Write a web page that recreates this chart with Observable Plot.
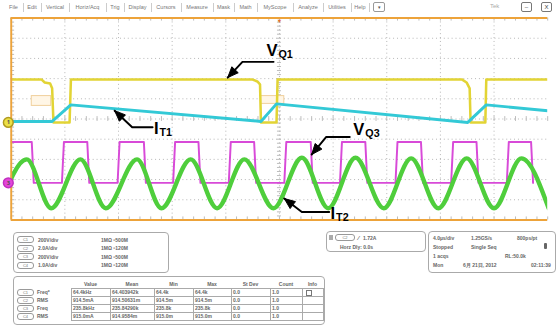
<!DOCTYPE html>
<html><head><meta charset="utf-8">
<script src="https://cdn.jsdelivr.net/npm/d3@7"></script>
<script src="https://cdn.jsdelivr.net/npm/@observablehq/plot@0.6"></script>
<style>
body{margin:0;background:#fff;font-family:"Liberation Sans",Arial,sans-serif;}
#wrap{position:relative;width:556px;height:326px;overflow:hidden;background:#fff;}
#plot{position:absolute;left:0;top:0;}
.abs{position:absolute;white-space:nowrap;}
.menu{font-size:5.5px;color:#777;text-align:center;top:3px;height:9px;line-height:9px;}
.sep{width:1px;height:9px;background:#ccc;top:3px;}
.box{border:1.5px solid #aaa;border-radius:4px;box-sizing:border-box;}
.t{font-size:5px;font-weight:bold;color:#666;line-height:6px;}
.pill{border:1px solid #999;border-radius:3px;box-sizing:border-box;font-size:4px;color:#777;text-align:center;line-height:5px;height:7px;}
.cell{border:1px solid #aaa;box-sizing:border-box;font-size:5px;font-weight:bold;color:#666;line-height:6px;padding-left:1px;}
</style></head><body><div id="wrap"><div id="plot"></div></div>
<script>
// ---------- data (time in µs, vertical in screen divisions) ----------
// CH1 V_Q1 (yellow)
const ch1T = [-20, -17.75, -17.5, -17.1, -16.95, -16.85, -15.65, -15.55, -2.05, -1.65, -1.45, -1.38, -0.22, -0.14, 13.6, 13.95, 14.18, 14.25, 15.35, 15.42, 20];
const ch1V = [1.96, 1.96, 1.81, 1.76, 1.52, -0.17, -0.17, 1.96, 1.96, 1.86, 1.72, -0.17, -0.17, 1.96, 1.96, 1.81, 1.52, -0.17, -0.17, 1.96, 1.96];
// CH2 I_T1 (cyan)
const ch2T = [-20, -16.95, -15.56, -1.38, -0.22, 14.04, 15.42, 20];
const ch2V = [-0.12, -0.12, 0.70, -0.12, 0.75, -0.17, 0.70, 0.41];
// CH3 V_Q3 (magenta) square wave edges
const ch3Rise = [-20.36, -16.22, -12.07, -7.93, -3.78, 0.36, 4.51, 8.65, 12.8, 16.95];
const ch3Fall = [-18.47, -14.33, -10.11, -6.04, -1.89, 2.33, 6.4, 10.55, 14.69, 18.76];
const ch3High = -1.135, ch3Low = -3.164;
// CH4 I_T2 (green) extrema
const ch4PeakT = [-18.84, -14.84, -10.62, -6.62, -2.62, 1.67, 5.67, 9.82, 13.96, 18.04];
const ch4PeakV = [-2.0, -2.0, -2.0, -2.0, -2.0, -1.92, -1.92, -1.95, -1.95, -1.95];
const ch4TroughT = [-20.87, -17.02, -12.95, -8.8, -4.65, -0.44, 3.64, 7.78, 11.85, 16.0, 20.07];
const ch4TroughV = [-4.42, -4.42, -4.42, -4.42, -4.42, -4.42, -4.42, -4.42, -4.42, -4.42, -4.42];
// ground markers
const groundNames = ["1", "3"];
const groundV = [-0.17, -3.16];
// faint on-screen label boxes
const ghostT1 = [-18.47, -1.38], ghostT2 = [-17.02, 0.36];
const ghostV1 = [1.135, 1.135], ghostV2 = [0.65, 0.75];
// annotation labels
const labelMain = ["V", "I", "V", "I"];
const labelSub = ["Q1", "T1", "Q3", "T2"];
const labelT = [-0.15, -9.02, 6.33, 4.15];
const labelV = [3.12, -0.75, -0.8, -4.95];
const arrowPath = [
  [[-0.44, 2.83], [-2.76, 2.83], [-3.86, 2.05]],
  [[-9.46, -0.41], [-10.98, -0.41], [-12.29, 0.41]],
  [[5.24, -0.89], [3.49, -0.89], [2.4, -1.76]],
  [[3.71, -4.61], [1.67, -4.61], [0.36, -3.94]]
];
// grid
const gridT = [-16, -12, -8, -4, 0, 4, 8, 12, 16];
const gridV = [-4, -3, -2, -1, 0, 1, 2, 3, 4];
// texts
const menuItems = ["File", "Edit", "Vertical", "Horiz/Acq", "Trig", "Display", "Cursors", "Measure", "Mask", "Math", "MyScope", "Analyze", "Utilities", "Help"];
const chanNames = ["C1", "C2", "C3", "C4"];
const chanScale = ["200V/div", "2.0A/div", "200V/div", "1.0A/div"];
const chanImp = ["1MΩ", "1MΩ", "1MΩ", "1MΩ"];
const chanBW = ["500M", "120M", "500M", "120M"];
const measHead = ["Value", "Mean", "Min", "Max", "St Dev", "Count", "Info"];
const measType = ["Freq*", "RMS", "Freq", "RMS"];
const measValue = ["64.4kHz", "914.5mA", "235.8kHz", "915.0mA"];
const measMean = ["64.403942k", "914.50631m", "235.84290k", "914.9584m"];
const measMin = ["64.4k", "914.5m", "235.8k", "915.0m"];
const measMax = ["64.4k", "914.5m", "235.8k", "915.0m"];
const measStd = ["0.0", "0.0", "0.0", "0.0"];
const measCount = ["1.0", "1.0", "1.0", "1.0"];
const acqLines = [["4.0µs/div", "1.25GS/s", "800ps/pt"], ["Stopped", "Single Seq", ""], ["1 acqs", "", "RL:50.0k"], ["Mon", "6月 21日, 2012", "02:11:39"]];
const trigLines = ["1.72A", "Horz Dly: 0.0s"];

// ---------- build tables ----------
const ch1 = ch1T.map((t, i) => ({t, v: ch1V[i]}));
const ch2 = ch2T.map((t, i) => ({t, v: ch2V[i]}));
const ch3 = [];
ch3Rise.forEach((r, i) => {
  ch3.push({t: r, v: ch3Low}, {t: r + 0.15, v: ch3High}, {t: ch3Fall[i], v: ch3High}, {t: ch3Fall[i] + 0.15, v: ch3Low});
});
const ch4 = [...ch4PeakT.map((t, i) => ({t, v: ch4PeakV[i]})), ...ch4TroughT.map((t, i) => ({t, v: ch4TroughV[i]}))].sort((a, b) => a.t - b.t);
const grounds = groundNames.map((n, i) => ({n, v: groundV[i]}));
const labels = labelMain.map((m, i) => ({m, s: labelSub[i], t: labelT[i], v: labelV[i]}));
const ghosts = ghostT1.map((t1, i) => ({t1, t2: ghostT2[i], v1: ghostV1[i], v2: ghostV2[i]}));

const plotW = 570, plotH = 232, mL = 11, mR = 9, mT = 18, mB = 7;
const pxT = (plotW - mL - mR) / 40, pxV = (plotH - mT - mB) / 10;
const arrowLines = [], arrowHeads = [];
arrowPath.forEach((p, id) => {
  p.forEach(([t, v]) => arrowLines.push({id, t, v}));
  const [tt, tv] = p[p.length - 2], [pt, pv] = p[p.length - 1];
  const dx = (pt - tt) * pxT, dy = -(pv - tv) * pxV, len = Math.hypot(dx, dy);
  const ux = dx / len, uy = dy / len, L = 11, Wd = 4.5;
  const bx = -ux * L, by = -uy * L;
  const q = [[0, 0], [bx - uy * Wd, by + ux * Wd], [bx + uy * Wd, by - ux * Wd], [0, 0]];
  q.forEach(([x, y]) => arrowHeads.push({id, t: pt + x / pxT, v: pv - y / pxV}));
});

const minorT = d3.range(-20, 20.01, 0.8);
const minorV = d3.range(-5, 5.01, 0.2);
const dotted = {stroke: "#b4b4b4", strokeDasharray: "1,3", strokeWidth: 1};
const orange = "#eda33a";

const plot = Plot.plot({
  width: plotW, height: plotH,
  marginLeft: mL, marginRight: mR, marginTop: mT, marginBottom: mB,
  x: {domain: [-20, 20], axis: null},
  y: {domain: [-5, 5], axis: null},
  style: {background: "transparent", overflow: "visible"},
  marks: [
    Plot.ruleX(gridT, dotted),
    Plot.ruleY(gridV, dotted),
    Plot.ruleX(minorT, {x: d => d, y1: -0.12, y2: 0.12, stroke: "#bbb"}),
    Plot.ruleY(minorV, {y: d => d, x1: -0.15, x2: 0.15, stroke: "#bbb"}),
    Plot.ruleX(minorT, {x: d => d, y1: 5, y2: 4.85, stroke: "#bbb"}),
    Plot.ruleX(minorT, {x: d => d, y1: -5, y2: -4.85, stroke: "#bbb"}),
    Plot.ruleY(minorV, {y: d => d, x1: -20, x2: -19.75, stroke: "#bbb"}),
    Plot.rect(ghosts, {x1: "t1", x2: "t2", y1: "v1", y2: "v2", fill: "#fff6e6", stroke: "#f0cf9a", strokeWidth: 1}),
    Plot.line(ch1, {x: "t", y: "v", stroke: "#e2d435", strokeWidth: 2.6, clip: true}),
    Plot.line(ch2, {x: "t", y: "v", stroke: "#33c9d6", strokeWidth: 3, clip: true}),
    Plot.line(ch3, {x: "t", y: "v", stroke: "#d84ad8", strokeWidth: 2, clip: true}),
    Plot.line(ch4, {x: "t", y: "v", stroke: "#4fce3c", strokeWidth: 4.5, curve: "monotone-x", clip: true}),
    Plot.ruleX([-20], {stroke: orange, strokeWidth: 2}),
    Plot.ruleY([5, -5], {stroke: orange, strokeWidth: 2}),
    Plot.text([0], {x: d => d, y: 5, text: () => "▼", fontSize: 6, fill: "#e07030", lineAnchor: "top", dy: 1}),
    Plot.dot(grounds, {x: () => -20, y: "v", r: 5, dx: -3, fill: d => d.n === "1" ? "#ece045" : "#e445d8", stroke: d => d.n === "1" ? "#b09a20" : "#c030c0", clip: false}),
    Plot.text(grounds, {x: () => -20, y: "v", dx: -3, text: "n", fontSize: 6, fill: "#555", fontWeight: "bold"}),
    Plot.line(arrowLines, {x: "t", y: "v", z: "id", stroke: "black", strokeWidth: 2}),
    Plot.line(arrowHeads, {x: "t", y: "v", z: "id", fill: "black", stroke: "black", strokeWidth: 1}),
    Plot.text(labels, {x: "t", y: "v", text: "m", textAnchor: "end", lineAnchor: "bottom", fontSize: 17, fontWeight: "bold", fill: "black", fontFamily: "Liberation Sans, Arial"}),
    Plot.text(labels, {x: "t", y: "v", text: "s", textAnchor: "start", lineAnchor: "bottom", dx: 1, dy: 2, fontSize: 11, fontWeight: "bold", fill: "black", fontFamily: "Liberation Sans, Arial"})
  ]
});
document.getElementById("plot").appendChild(plot);

// ---------- HTML panels ----------
const wrap = document.getElementById("wrap");
function el(cls, css, text) {
  const d = document.createElement("div");
  d.className = "abs " + cls;
  Object.assign(d.style, css);
  if (text != null) d.textContent = text;
  wrap.appendChild(d);
  return d;
}
// menu bar
const seps = [4, 23, 41, 69, 106, 124, 151, 181, 213, 234, 257, 293, 323, 351, 369];
menuItems.forEach((m, i) => {
  el("menu", {left: seps[i] + "px", width: (seps[i + 1] - seps[i]) + "px"}, m);
  if (i > 0) el("sep", {left: seps[i] + "px"});
});
el("sep", {left: "369px"});
el("", {left: "373px", top: "2px", width: "12px", height: "10px", border: "1px solid #999", borderRadius: "2px", boxSizing: "border-box", fontSize: "5px", color: "#555", textAlign: "center", lineHeight: "8px"}, "▾");
el("", {left: "490px", top: "3px", fontSize: "6px", color: "#aaa"}, "Tek");
el("", {left: "521px", top: "2px", width: "11px", height: "10px", border: "1px solid #777", borderRadius: "2px", boxSizing: "border-box", fontSize: "6px", color: "#444", textAlign: "center", lineHeight: "8px"}, "–");
el("", {left: "541px", top: "2px", width: "11px", height: "10px", border: "1px solid #777", borderRadius: "2px", boxSizing: "border-box", fontSize: "6px", color: "#444", textAlign: "center", lineHeight: "8px"}, "X");

// channel box
el("box", {left: "13px", top: "232px", width: "156px", height: "41px"});
chanNames.forEach((c, i) => {
  const y = 236 + i * 8.6;
  el("pill", {left: "17px", top: y + "px", width: "17px"}, c);
  el("t", {left: "38px", top: (y + 0.5) + "px"}, chanScale[i]);
  el("t", {left: "101px", top: (y + 0.5) + "px"}, chanImp[i] + " ⁿ" + chanBW[i]);
});
// trigger box
el("box", {left: "326px", top: "231px", width: "100px", height: "21px"});
el("", {left: "329px", top: "235px", width: "4px", height: "5px", background: "#aaa"});
el("pill", {left: "335px", top: "234px", width: "20px"}, "C2");
el("t", {left: "358px", top: "234.5px", fontSize: "6px"}, "⁄");
el("t", {left: "363px", top: "234.5px"}, trigLines[0]);
el("t", {left: "340px", top: "243.5px"}, trigLines[1]);
// acquisition box
el("box", {left: "428px", top: "231px", width: "128px", height: "42px"});
const acqX = [433, 471, 517];
acqLines.forEach((row, r) => {
  row.forEach((s, c) => {
    if (s) el("t", {left: (c === 2 && r === 2 ? 505 : c === 2 && r === 3 ? 531 : acqX[c] + (r === 3 && c === 1 ? -8 : 0)) + "px", top: (235 + r * 9) + "px"}, s);
  });
});
el("", {left: "544px", top: "243px", width: "3px", height: "6px", background: "#666", borderRadius: "1px"});
// measurement table
el("box", {left: "13px", top: "276px", width: "312px", height: "49px"});
const colX = [71, 110, 154, 193, 231, 270, 302, 323];
measHead.forEach((h, i) => {
  el("t", {left: colX[i] + "px", top: "280.5px", width: (colX[i + 1] - colX[i]) + "px", textAlign: "center"}, h);
});
const cols = [measValue, measMean, measMin, measMax, measStd, measCount];
chanNames.forEach((c, r) => {
  const y = 288 + r * 8;
  el("pill", {left: "17px", top: (y + 0.5) + "px", width: "17px"}, c);
  el("t", {left: "37px", top: (y + 1) + "px"}, measType[r]);
  for (let k = 0; k < 7; k++) {
    el("cell", {left: colX[k] + "px", top: y + "px", width: (colX[k + 1] - colX[k] + 1) + "px", height: "9px"}, k < 6 ? cols[k][r] : "");
  }
});
el("", {left: "306px", top: "289.5px", width: "6px", height: "6px", border: "1px solid #777", boxSizing: "border-box"});
</script></body></html>
